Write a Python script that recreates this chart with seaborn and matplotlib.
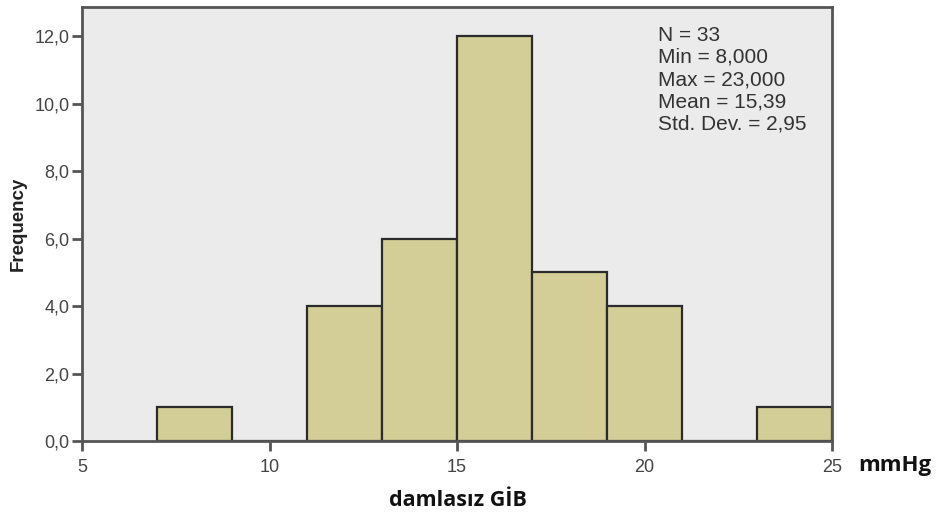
import matplotlib
matplotlib.use("Agg")
import matplotlib.pyplot as plt
import seaborn as sns
import numpy as np
import pandas as pd
from matplotlib.ticker import FuncFormatter

# Data
bin_edges = [7, 9, 11, 13, 15, 17, 19, 21, 23, 25]
counts = [1, 0, 4, 6, 12, 5, 4, 0, 1]
x_ticks = [5, 10, 15, 20, 25]
y_ticks = [0, 2, 4, 6, 8, 10, 12]
stats_lines = ["N = 33", "Min = 8,000", "Max = 23,000", "Mean = 15,39", "Std. Dev. = 2,95"]

centers = [(a + b) / 2 for a, b in zip(bin_edges[:-1], bin_edges[1:])]
df = pd.DataFrame({"value": centers, "count": counts})

sns.set_theme(style="white")
plt.rcParams["font.family"] = ["Liberation Sans", "DejaVu Sans"]

fig = plt.figure(figsize=(9.46, 5.21), dpi=100)
ax = fig.add_axes([82 / 946, 1 - 441 / 521, 750 / 946, 434 / 521])
ax.set_facecolor("#EBEBEB")

sns.histplot(data=df, x="value", weights="count", bins=bin_edges, ax=ax,
             color="#D3CE97", alpha=1.0, edgecolor="#2b2b2b", linewidth=1.6)

ax.set_xlim(5, 25)
ax.set_ylim(0, 12.86)
ax.set_xticks(x_ticks)
ax.set_yticks(y_ticks)
ax.yaxis.set_major_formatter(FuncFormatter(lambda v, p: f"{v:.1f}".replace(".", ",")))
ax.tick_params(axis="both", direction="out", length=7, width=2, color="#555555",
               labelsize=13, labelcolor="#444444", pad=2)
ax.tick_params(axis="x", pad=6)
ax.tick_params(bottom=True, left=True)
for side in ["left", "bottom", "top", "right"]:
    ax.spines[side].set_visible(True)
    ax.spines[side].set_color("#555555")
    ax.spines[side].set_linewidth(2)

ax.set_xlabel("")
ax.set_ylabel("Frequency", fontsize=13.5, fontweight="bold", color="#222222")
ax.yaxis.set_label_coords(-0.074, 0.5)

ax.text(0.768, 0.957, "\n".join(stats_lines), transform=ax.transAxes, va="top", ha="left",
        fontsize=15, color="#333333", linespacing=1.22)

fig.text(858 / 946, 1 - 465 / 521, "mmHg", fontsize=16, fontweight="bold",
         family=["Open Sans", "DejaVu Sans"], va="center", ha="left", color="#111111")
fig.text(458 / 946, 1 - 500 / 521, "damlasız GİB", fontsize=15.5, fontweight="bold",
         family=["Open Sans", "DejaVu Sans"], va="center", ha="center", color="#111111")

fig.savefig("out.png", dpi=100, facecolor="white")
